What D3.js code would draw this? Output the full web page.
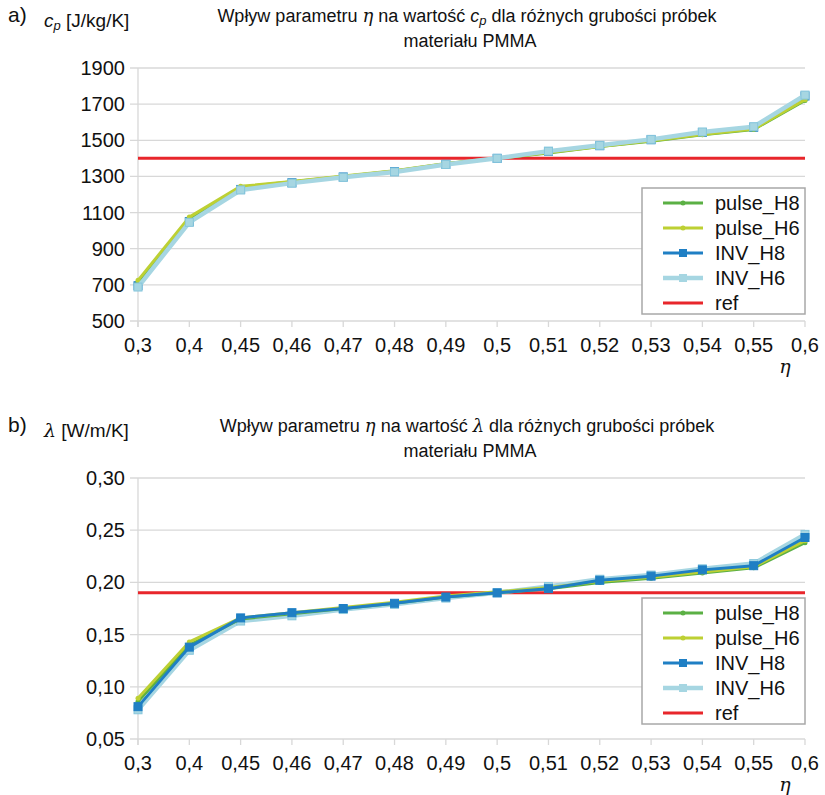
<!DOCTYPE html>
<html>
<head>
<meta charset="utf-8">
<script src="https://cdn.jsdelivr.net/npm/d3@7"></script>
<style>
  body { margin: 0; background: #fff; }
  text { font-family: "Liberation Sans Narrow", "Arial Narrow", "Liberation Sans", sans-serif; fill: #111; }
</style>
</head>
<body>
<div id="chart"></div>
<script>
const etaLabels = ["0,3", "0,4", "0,45", "0,46", "0,47", "0,48", "0,49", "0,5", "0,51", "0,52", "0,53", "0,54", "0,55", "0,6"];

// a) cp [J/kg/K]
const cpPulseH8 = [715, 1065, 1240, 1270, 1300, 1330, 1370, 1400, 1430, 1465, 1495, 1530, 1560, 1720];
const cpPulseH6 = [725, 1075, 1245, 1272, 1302, 1332, 1372, 1400, 1432, 1466, 1497, 1532, 1562, 1725];
const cpInvH8 = [695, 1050, 1228, 1265, 1297, 1327, 1367, 1400, 1438, 1470, 1503, 1543, 1572, 1745];
const cpInvH6 = [688, 1046, 1225, 1263, 1295, 1325, 1366, 1400, 1440, 1472, 1505, 1546, 1575, 1750];
const cpRef = 1400;
const cpTicks = [500, 700, 900, 1100, 1300, 1500, 1700, 1900];

// b) lambda [W/m/K]
const lamPulseH8 = [0.086, 0.140, 0.165, 0.170, 0.175, 0.180, 0.186, 0.190, 0.194, 0.200, 0.204, 0.209, 0.214, 0.238];
const lamPulseH6 = [0.089, 0.143, 0.166, 0.171, 0.176, 0.181, 0.187, 0.191, 0.195, 0.201, 0.205, 0.210, 0.215, 0.240];
const lamInvH8 = [0.081, 0.138, 0.166, 0.171, 0.175, 0.180, 0.186, 0.190, 0.194, 0.202, 0.206, 0.212, 0.216, 0.243];
const lamInvH6 = [0.078, 0.135, 0.163, 0.168, 0.174, 0.179, 0.185, 0.190, 0.196, 0.203, 0.207, 0.213, 0.218, 0.246];
const lamRef = 0.19;
const lamTicks = [0.05, 0.10, 0.15, 0.20, 0.25, 0.30];

const seriesNames = ["pulse_H8", "pulse_H6", "INV_H8", "INV_H6", "ref"];

const style = {
  "pulse_H8": { color: "#5bb044", width: 3, marker: "dot" },
  "pulse_H6": { color: "#bdd033", width: 3, marker: "dot" },
  "INV_H8":   { color: "#1f7fc4", width: 3, marker: "square" },
  "INV_H6":   { color: "#a6d6e2", width: 4.5, marker: "square" },
  "ref":      { color: "#e8262b", width: 3, marker: null }
};

const W = 825, H = 795;
const svg = d3.select("#chart").append("svg")
  .attr("width", W)
  .attr("height", H);

const x = d3.scalePoint()
  .domain(etaLabels)
  .range([138, 805]);

function drawPanel(opts) {
  const g = svg.append("g");
  const y = d3.scaleLinear().domain(opts.domain).range(opts.range);

  // grid lines
  g.selectAll(".grid")
    .data(opts.ticks)
    .enter().append("line")
      .attr("x1", 130)
      .attr("x2", 805)
      .attr("y1", d => y(d))
      .attr("y2", d => y(d))
      .attr("stroke", "#d8d8d8")
      .attr("stroke-width", 1.3);

  // y axis line
  g.append("line")
    .attr("x1", 138).attr("x2", 138)
    .attr("y1", opts.range[1]).attr("y2", opts.range[0] + 6)
    .attr("stroke", "#d8d8d8").attr("stroke-width", 1.3);

  // x ticks
  g.selectAll(".xt")
    .data(etaLabels)
    .enter().append("line")
      .attr("x1", d => x(d)).attr("x2", d => x(d))
      .attr("y1", opts.range[0]).attr("y2", opts.range[0] + 6)
      .attr("stroke", "#d8d8d8").attr("stroke-width", 1.3);

  g.selectAll(".yl")
    .data(opts.ticks)
    .enter().append("text")
      .attr("x", 125)
      .attr("y", d => y(d) + 7)
      .attr("text-anchor", "end")
      .style("font-size", "20px")
      .text(opts.fmt);

  g.selectAll(".xl")
    .data(etaLabels)
    .enter().append("text")
      .attr("x", d => x(d))
      .attr("y", opts.range[0] + 31)
      .attr("text-anchor", "middle")
      .style("font-size", "20px")
      .text(d => d);

  g.append("text")
    .attr("x", 785)
    .attr("y", opts.range[0] + 52)
    .attr("text-anchor", "middle")
    .style("font-family", "'DejaVu Serif', serif")
    .style("font-style", "italic")
    .style("font-size", "19px")
    .text("η");

  // ref line
  g.append("line")
    .attr("x1", 138).attr("x2", 805)
    .attr("y1", y(opts.ref)).attr("y2", y(opts.ref))
    .attr("stroke", style.ref.color).attr("stroke-width", style.ref.width);

  const line = d3.line()
    .x((d, i) => x(etaLabels[i]))
    .y(d => y(d));

  opts.order.forEach(name => {
    const s = style[name];
    const vals = opts.series[name];
    g.append("path")
      .datum(vals)
      .attr("fill", "none")
      .attr("stroke", s.color)
      .attr("stroke-width", s.width)
      .attr("stroke-linejoin", "round")
      .attr("d", line);
    if (s.marker === "square") {
      g.selectAll(null)
        .data(vals)
        .enter().append("rect")
          .attr("x", (d, i) => x(etaLabels[i]) - 4)
          .attr("y", d => y(d) - 4)
          .attr("width", 8).attr("height", 8)
          .attr("fill", s.color)
          .attr("stroke", name === "INV_H6" ? "#86c6dc" : s.color)
          .attr("stroke-width", 1);
    } else if (s.marker === "dot") {
      g.selectAll(null)
        .data(vals)
        .enter().append("circle")
          .attr("cx", (d, i) => x(etaLabels[i]))
          .attr("cy", d => y(d))
          .attr("r", 2.5)
          .attr("fill", s.color);
    }
  });

  // legend
  const lg = g.append("g");
  lg.append("rect")
    .attr("x", 642).attr("y", opts.legendY)
    .attr("width", 163).attr("height", 126)
    .attr("fill", "#fff")
    .attr("stroke", "#a8a8a8").attr("stroke-width", 1.5);
  seriesNames.forEach((name, i) => {
    const s = style[name];
    const ly = opts.legendY + 15 + i * 25;
    lg.append("line")
      .attr("x1", 663).attr("x2", 703)
      .attr("y1", ly).attr("y2", ly)
      .attr("stroke", s.color).attr("stroke-width", s.width);
    if (s.marker === "square") {
      lg.append("rect")
        .attr("x", 679).attr("y", ly - 4)
        .attr("width", 8).attr("height", 8)
        .attr("fill", s.color);
    } else if (s.marker === "dot") {
      lg.append("circle")
        .attr("cx", 683).attr("cy", ly).attr("r", 2.5)
        .attr("fill", s.color);
    }
    lg.append("text")
      .attr("x", 715).attr("y", ly + 7)
      .style("font-size", "20px")
      .text(name);
  });
}

drawPanel({
  domain: [500, 1900],
  range: [321, 68],
  ticks: cpTicks,
  fmt: d => d,
  ref: cpRef,
  series: { "pulse_H8": cpPulseH8, "pulse_H6": cpPulseH6, "INV_H8": cpInvH8, "INV_H6": cpInvH6 },
  order: ["INV_H8", "pulse_H8", "pulse_H6", "INV_H6"],
  legendY: 188
});

drawPanel({
  domain: [0.05, 0.30],
  range: [739, 478],
  ticks: lamTicks,
  fmt: d => d3.format(".2f")(d).replace(".", ","),
  ref: lamRef,
  series: { "pulse_H8": lamPulseH8, "pulse_H6": lamPulseH6, "INV_H8": lamInvH8, "INV_H6": lamInvH6 },
  order: ["INV_H6", "pulse_H8", "pulse_H6", "INV_H8"],
  legendY: 598
});

// text with italic symbols and a small subscript
function richText(sel, parts) {
  parts.forEach(p => {
    const t = sel.append("tspan").text(p.t);
    if (p.it) t.style("font-style", "italic");
    if (p.font) t.style("font-family", p.font);
    if (p.sub) t.attr("dy", 3).style("font-size", "13px");
    if (p.up) t.attr("dy", -3);
  });
}

function heading(yTop, letter, unitParts, titleParts) {
  svg.append("text")
    .attr("x", 8).attr("y", yTop)
    .style("font-size", "21px")
    .text(letter);

  richText(svg.append("text")
    .attr("x", 44).attr("y", yTop + 5)
    .style("font-size", "19px"), unitParts);

  richText(svg.append("text")
    .attr("x", 467).attr("y", yTop)
    .attr("text-anchor", "middle")
    .style("font-size", "18px"), titleParts);

  svg.append("text")
    .attr("x", 470).attr("y", yTop + 25)
    .attr("text-anchor", "middle")
    .style("font-size", "18px")
    .text("materiału PMMA");
}

const serif = "'DejaVu Serif', serif";

heading(22, "a)",
  [{ t: "c", it: true }, { t: "p", it: true, sub: true }, { t: " [J/kg/K]", up: true }],
  [{ t: "Wpływ parametru " }, { t: "η", it: true, font: serif }, { t: " na wartość " },
   { t: "c", it: true }, { t: "p", it: true, sub: true }, { t: " dla różnych grubości próbek", up: true }]);

heading(432, "b)",
  [{ t: "λ", it: true, font: serif }, { t: " [W/m/K]" }],
  [{ t: "Wpływ parametru " }, { t: "η", it: true, font: serif }, { t: " na wartość " },
   { t: "λ", it: true, font: serif }, { t: " dla różnych grubości próbek" }]);
</script>
</body>
</html>
